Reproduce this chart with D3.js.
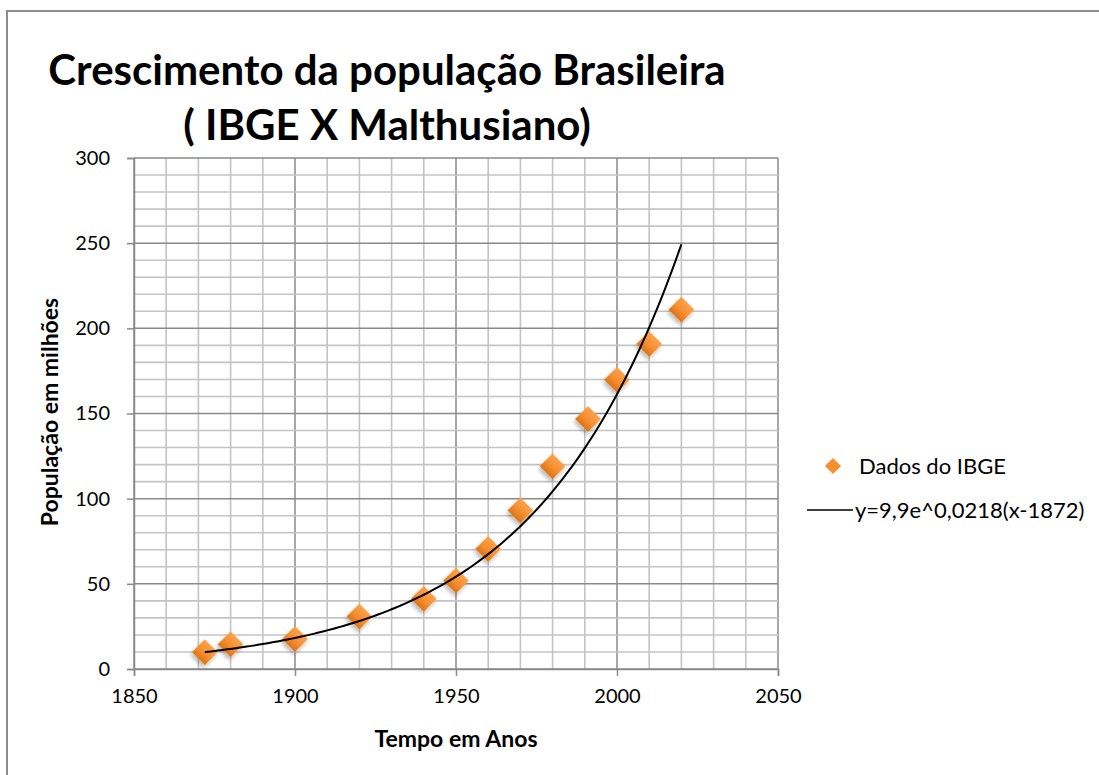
<!DOCTYPE html>
<html>
<head>
<meta charset="utf-8">
<script src="https://cdn.jsdelivr.net/npm/d3@7"></script>
<style>
body { margin: 0; background: #fff; }
text { font-family: Lato, "Open Sans", sans-serif; fill: #000; }
</style>
</head>
<body>
<svg width="1099" height="775"></svg>
<script>
var svg = d3.select("svg");

// IBGE census data
var years = [1872, 1880, 1900, 1920, 1940, 1950, 1960, 1970, 1980, 1991, 2000, 2010, 2020];
var population = [9.9, 14.5, 17.6, 30.8, 41.2, 51.9, 70.5, 93.1, 119.0, 146.8, 169.8, 190.8, 211.0];

// malthusian model from the legend: y = 9.9 e^(0.0218 (x - 1872))
var p0 = 9.9, rate = 0.0218, t0 = 1872, tEnd = 2020;

var xTicks = [1850, 1900, 1950, 2000, 2050];
var yTicks = [0, 50, 100, 150, 200, 250, 300];

var x = d3.scaleLinear().domain([1850, 2050]).range([134, 778]);
var y = d3.scaleLinear().domain([0, 300]).range([669, 158]);

// outer frame
svg.append("path")
  .attr("d", "M7,775 V11 H1099")
  .attr("fill", "none")
  .attr("stroke", "#8c8c8c")
  .attr("stroke-width", 2);

// grid, minor every 10, major every 50
var grid = svg.append("g");
d3.range(1850, 2051, 10).forEach(function(v) {
  grid.append("line")
    .attr("x1", x(v)).attr("x2", x(v))
    .attr("y1", y(0)).attr("y2", y(300))
    .attr("stroke", v % 50 === 0 ? "#8a8a8a" : "#c4c4c4")
    .attr("stroke-width", v % 50 === 0 ? 1.5 : 1.6);
});
d3.range(0, 301, 10).forEach(function(v) {
  grid.append("line")
    .attr("x1", x(1850)).attr("x2", x(2050))
    .attr("y1", y(v)).attr("y2", y(v))
    .attr("stroke", v % 50 === 0 ? "#8a8a8a" : "#c4c4c4")
    .attr("stroke-width", v % 50 === 0 ? 1.5 : 1.6);
});

// axes
var yAxis = svg.append("g")
  .attr("transform", "translate(" + x(1850) + ",0)")
  .call(d3.axisLeft(y).tickValues(yTicks).tickSize(7).tickPadding(17));
var xAxis = svg.append("g")
  .attr("transform", "translate(0," + y(0) + ")")
  .call(d3.axisBottom(x).tickValues(xTicks).tickFormat(d3.format("d")).tickSize(7).tickPadding(13));
[yAxis, xAxis].forEach(function(a) {
  a.select(".domain").attr("stroke", "#8a8a8a").attr("stroke-width", 1.5);
  a.selectAll(".tick line").attr("stroke", "#8a8a8a").attr("stroke-width", 1.5);
  a.selectAll("text").attr("font-size", 20).attr("font-family", "Lato, sans-serif").attr("fill", "#000");
});

// gradient + shadow for markers
var defs = svg.append("defs");
var grad = defs.append("linearGradient").attr("id", "orange")
  .attr("x1", 0).attr("y1", 0).attr("x2", 0).attr("y2", 1);
grad.append("stop").attr("offset", "0%").attr("stop-color", "#fba24d");
grad.append("stop").attr("offset", "55%").attr("stop-color", "#f68f2f");
grad.append("stop").attr("offset", "100%").attr("stop-color", "#dc7419");
var shadow = defs.append("filter").attr("id", "shadow")
  .attr("x", "-50%").attr("y", "-50%").attr("width", "200%").attr("height", "200%");
shadow.append("feDropShadow").attr("dx", 1).attr("dy", 3).attr("stdDeviation", 2)
  .attr("flood-color", "#000").attr("flood-opacity", 0.3);

var diamond = d3.symbol().type(d3.symbolSquare).size(330);

svg.append("g").selectAll("path")
  .data(years)
  .enter().append("path")
  .attr("d", diamond)
  .attr("transform", function(d, i) { return "translate(" + x(d) + "," + y(population[i]) + ") rotate(45)"; })
  .attr("fill", "url(#orange)")
  .attr("filter", "url(#shadow)");

// trend curve
var curveYears = d3.range(t0, tEnd + 0.01, 1);
var line = d3.line()
  .x(function(d) { return x(d); })
  .y(function(d) { return y(p0 * Math.exp(rate * (d - t0))); });
svg.append("path")
  .datum(curveYears)
  .attr("d", line)
  .attr("fill", "none")
  .attr("stroke", "#000")
  .attr("stroke-width", 2);

// title
svg.append("text").attr("x", 387).attr("y", 85)
  .attr("text-anchor", "middle").attr("font-size", 42).attr("font-weight", "bold")
  .text("Crescimento da população Brasileira");
svg.append("text").attr("x", 387).attr("y", 140)
  .attr("text-anchor", "middle").attr("font-size", 42).attr("font-weight", "bold")
  .text("( IBGE X Malthusiano)");

// axis titles
svg.append("text")
  .attr("transform", "translate(58,412) rotate(-90)")
  .attr("text-anchor", "middle").attr("font-size", 23).attr("font-weight", "bold")
  .text("População em milhões");
svg.append("text").attr("x", 456).attr("y", 747)
  .attr("text-anchor", "middle").attr("font-size", 23).attr("font-weight", "bold")
  .text("Tempo em Anos");

// legend
var legend = svg.append("g");
legend.append("path")
  .attr("d", d3.symbol().type(d3.symbolSquare).size(130))
  .attr("transform", "translate(833,466) rotate(45)")
  .attr("fill", "#f68f2f");
legend.append("text").attr("x", 859).attr("y", 474).attr("font-size", 22)
  .text("Dados do IBGE");
legend.append("line")
  .attr("x1", 807).attr("x2", 853).attr("y1", 510).attr("y2", 510)
  .attr("stroke", "#000").attr("stroke-width", 1.5);
legend.append("text").attr("x", 855).attr("y", 518).attr("font-size", 22)
  .text("y=9,9e^0,0218(x-1872)");
</script>
</body>
</html>
